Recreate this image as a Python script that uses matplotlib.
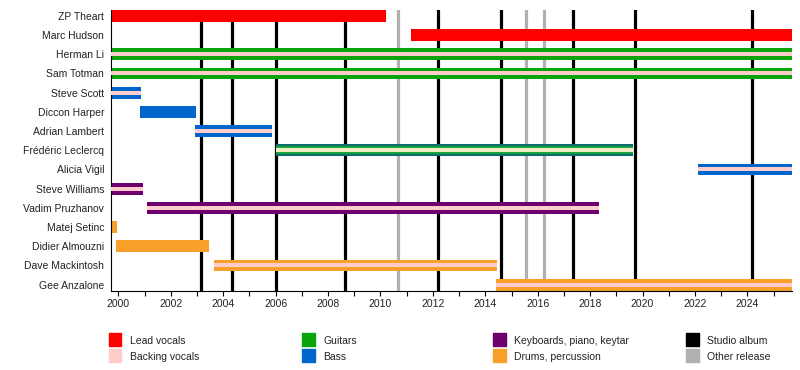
import matplotlib
matplotlib.use("Agg")
import matplotlib.pyplot as plt
from matplotlib.patches import Rectangle
from matplotlib.ticker import MultipleLocator

plt.rcParams['font.family'] = ['Liberation Sans', 'DejaVu Sans']

X_START = 1999.72
X_END = 2025.69

members = ["ZP Theart", "Marc Hudson", "Herman Li", "Sam Totman", "Steve Scott",
           "Diccon Harper", "Adrian Lambert", "Frédéric Leclercq", "Alicia Vigil",
           "Steve Williams", "Vadim Pruzhanov", "Matej Setinc", "Didier Almouzni",
           "Dave Mackintosh", "Gee Anzalone"]
starts = [1999.72, 2011.17, 1999.72, 1999.72, 1999.72, 2000.83, 2002.93, 2006.02,
          2022.11, 1999.72, 2001.08, 1999.72, 1999.91, 2003.65, 2014.41]
ends = [2010.20, 2025.69, 2025.69, 2025.69, 2000.87, 2002.96, 2005.86, 2019.63,
        2025.69, 2000.95, 2018.34, 1999.96, 2003.46, 2014.45, 2025.69]
roles = ["vocals", "vocals", "guitars", "guitars", "bass", "bass", "bass", "bass_guitars",
         "bass", "keys", "keys", "drums", "drums", "drums", "drums"]
backing = [False, False, True, True, True, False, True, True,
           True, True, True, False, False, True, True]

studio_albums = [2003.16, 2004.35, 2006.0, 2008.65, 2012.21, 2014.60, 2017.36, 2019.73, 2024.19]
other_releases = [2010.68, 2015.54, 2016.25]

colors = {"vocals": "#FF0000", "bvox": "#FFCCCC", "guitars": "#0AA50A",
          "bass": "#0066CC", "keys": "#6E006E", "drums": "#F9A02B",
          "studio": "#000000", "other": "#B0B0B0"}

legend_labels = [["Lead vocals", "Backing vocals"], ["Guitars", "Bass"],
                 ["Keyboards, piano, keytar", "Drums, percussion"],
                 ["Studio album", "Other release"]]
legend_keys = [["vocals", "bvox"], ["guitars", "bass"], ["keys", "drums"], ["studio", "other"]]

FS = 7.5
fig = plt.figure(figsize=(8, 3.7), dpi=100)
ax = fig.add_axes([111/800, 1-290.5/370, (791.7-111)/800, (290.5-10)/370])

for x in studio_albums:
    ax.axvline(x, color=colors["studio"], lw=2.3, zorder=1)
for x in other_releases:
    ax.axvline(x, color=colors["other"], lw=2.3, zorder=1)

H = 0.61
for i, (s, e, r, b) in enumerate(zip(starts, ends, roles, backing)):
    w = e - s
    if r == "bass_guitars":
        ax.barh(i, w, left=s, height=H, color="#0B6E6A", zorder=2)
        ax.barh(i, w, left=s, height=H*0.66, color="#1AA040", zorder=3)
        ax.barh(i, w, left=s, height=H*0.36, color="#EEECC0", zorder=4)
    else:
        ax.barh(i, w, left=s, height=H, color=colors[r], zorder=2)
        if b:
            ax.barh(i, w, left=s, height=H*0.34, color=colors["bvox"], zorder=3)

ax.set_yticks(range(len(members)))
ax.set_yticklabels(members, fontsize=FS, color='#222222')
ax.set_ylim(14 + H/2, -H/2)
ax.set_xlim(X_START, X_END)
ax.xaxis.set_major_locator(MultipleLocator(2))
ax.xaxis.set_minor_locator(MultipleLocator(1))
ax.tick_params(axis='x', which='both', length=3.5, width=0.8, labelsize=FS, pad=2.5,
               labelcolor='#222222')
ax.tick_params(axis='y', length=0, pad=5)
ax.spines['top'].set_visible(False)
ax.spines['right'].set_visible(False)
ax.spines['left'].set_linewidth(0.8)
ax.spines['bottom'].set_linewidth(0.8)

col_x = [108.5, 302, 493.5, 686]
row_y = [339.5, 355.5]
sq = 12.5
for c in range(4):
    for r in range(2):
        cx = col_x[c]
        cy = row_y[r]
        rect = Rectangle((cx/800, 1-(cy+sq/2)/370), sq/800, sq/370,
                         transform=fig.transFigure, color=colors[legend_keys[c][r]])
        fig.add_artist(rect)
        fig.text((cx+21)/800, 1-(cy+1.5)/370, legend_labels[c][r], fontsize=FS,
                 va='center', ha='left', color='#222222')

fig.savefig("out.png", dpi=100)
